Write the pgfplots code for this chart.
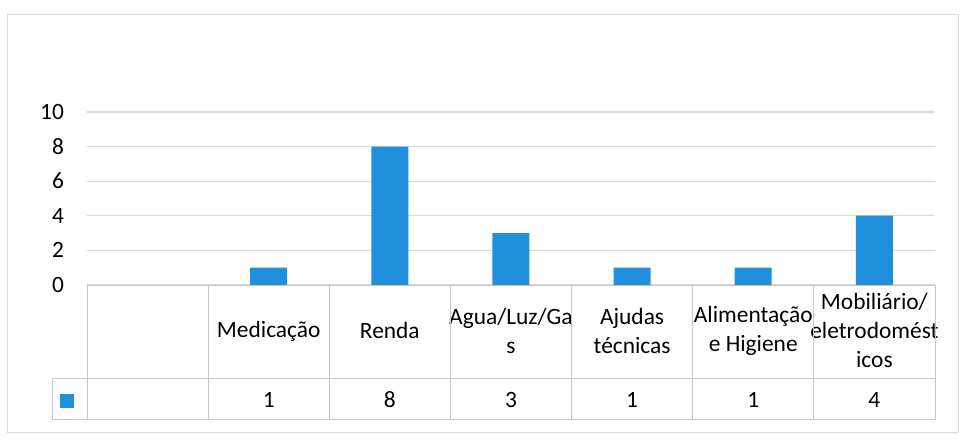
\documentclass[border=0pt]{standalone}
\usepackage{fontspec}
\setmainfont{Carlito}
\usepackage{pgfplots}
\pgfplotsset{compat=1.18}
\definecolor{barblue}{HTML}{2090DC}
\definecolor{gridgray}{HTML}{D9D9D9}
\definecolor{tablegray}{HTML}{C8C8C8}
\begin{document}
\begin{tikzpicture}
\begin{axis}[
  scale only axis, width=424pt, height=86.5pt,
  xmin=0, xmax=7, ymin=0, ymax=10,
  ytick={0,2,...,10}, ymajorgrids,
  major grid style={gridgray, line width=0.6pt},
  axis line style={draw=none}, tick style={draw=none},
  xtick={1.5,2.5,...,6.5},
  xticklabels={Medicação, Renda, Agua/Luz/Ga\\s, Ajudas\\técnicas,
    Alimentação\\e Higiene, Mobiliário/\\eletrodomést\\icos},
  xticklabel style={anchor=center, yshift=-23pt, align=center},
  yticklabel style={xshift=-8pt},
  ticklabel style={font=\fontsize{11.7}{14.5}\selectfont},
  /pgf/number format/assume math mode=true,
  clip=false,
  legend style={at={(axis cs:-0.13,-6.70)}, anchor=center, draw=none,
    fill=none, inner sep=0pt, font=\tiny},
  legend image code/.code={\fill[barblue] (0pt,-3.5pt) rectangle (7pt,3.5pt);},
]
\addplot[ybar, bar width=18.5pt, fill=barblue, draw=none]
  coordinates {(1.5,1) (2.5,8) (3.5,3) (4.5,1) (5.5,1) (6.5,4)};
\addlegendentry{}
\addplot[draw=none, mark=none, forget plot, nodes near coords, point meta=explicit,
  nodes near coords style={anchor=center, font=\fontsize{11.7}{14.5}\selectfont}]
  table[meta=v] {
x y v
1.5 -6.65 1
2.5 -6.65 8
3.5 -6.65 3
4.5 -6.65 1
5.5 -6.65 1
6.5 -6.65 4
};
% data table grid
\draw[tablegray] (axis cs:0,0) -- (axis cs:7,0);
\draw[tablegray] (axis cs:-0.289,-5.376) -- (axis cs:7,-5.376);
\draw[tablegray] (axis cs:-0.289,-7.80) -- (axis cs:7,-7.80);
\draw[tablegray] (axis cs:-0.289,-5.376) -- (axis cs:-0.289,-7.80);
\pgfplotsinvokeforeach{0,...,7}{\draw[tablegray] (axis cs:#1,0) -- (axis cs:#1,-7.80);}
% chart area border and page bounds
\draw[gray!30] (axis cs:-0.660,15.66) rectangle (axis cs:7.190,-8.50);
\path (axis cs:-0.718,16.47) rectangle (axis cs:7.215,-8.96);
\end{axis}
\end{tikzpicture}
\end{document}
